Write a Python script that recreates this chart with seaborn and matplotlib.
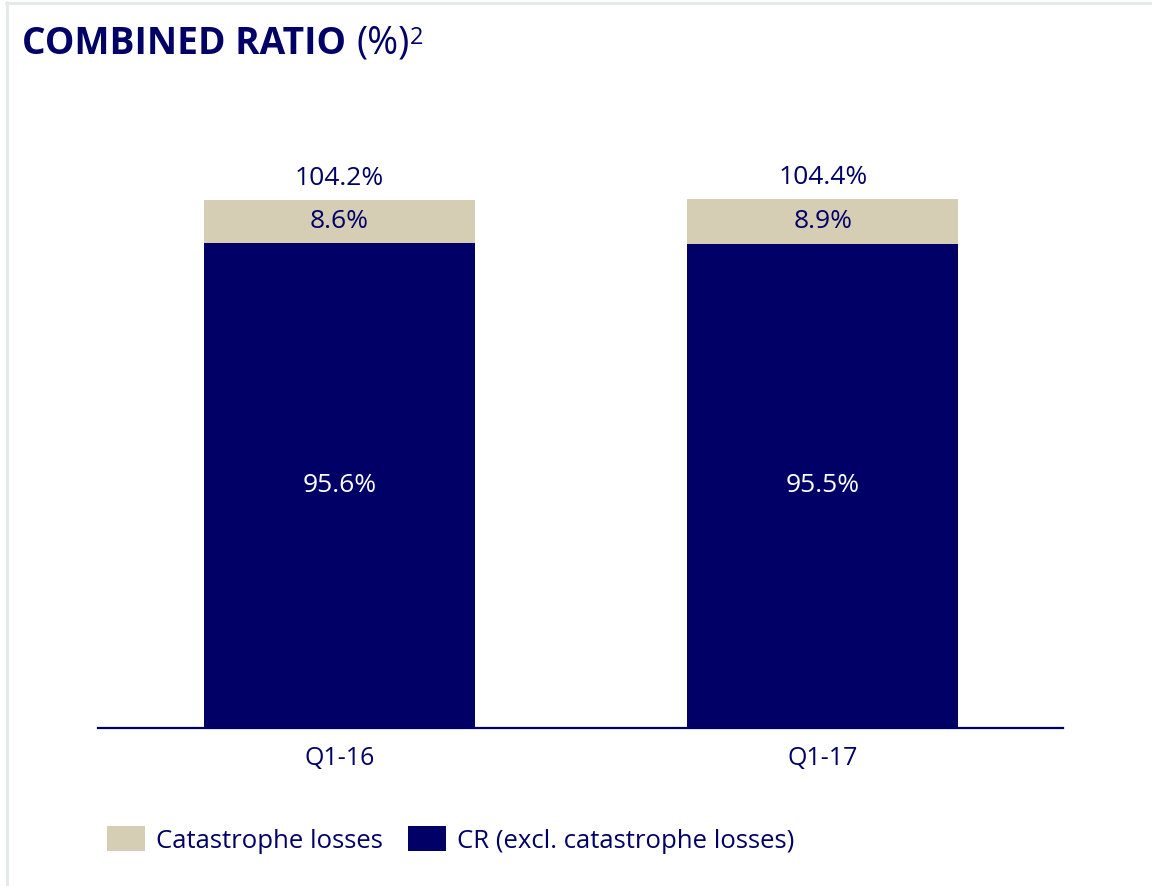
import matplotlib
matplotlib.use("Agg")
import matplotlib.pyplot as plt
import seaborn as sns
import pandas as pd
from matplotlib.lines import Line2D
from matplotlib.patches import Patch

categories = ["Q1-16", "Q1-17"]
cr_excl = [95.6, 95.5]
cat_losses = [8.6, 8.9]
totals = [104.2, 104.4]

NAVY = "#000066"
BEIGE = "#d5cdb4"

sns.set_theme(style="white")
plt.rcParams["font.family"] = ["Open Sans", "DejaVu Sans"]

df = pd.DataFrame({"period": categories, "cr": cr_excl, "cat": cat_losses, "total": totals})

fig = plt.figure(figsize=(11.52, 8.86), dpi=100)
ax = fig.add_axes([98/1152, 158/886, 965/1152, 588/886])

sns.barplot(data=df, x="period", y="total", color=BEIGE, width=0.561, ax=ax,
            saturation=1, edgecolor="none", linewidth=0)
sns.barplot(data=df, x="period", y="cr", color=NAVY, width=0.561, ax=ax,
            saturation=1, edgecolor="none", linewidth=0)

ax.set_xlim(-0.5, 1.497)
ax.set_ylim(0, 116)
for s in ["top", "right", "left"]:
    ax.spines[s].set_visible(False)
ax.spines["bottom"].set_color(NAVY)
ax.spines["bottom"].set_linewidth(1.6)
ax.set_yticks([])
ax.set_xlabel("")
ax.set_ylabel("")
ax.tick_params(axis="x", length=0, pad=13, labelsize=18, labelcolor=NAVY)

for i in range(len(categories)):
    ax.text(i, cr_excl[i] / 2, f"{cr_excl[i]:.1f}%", ha="center", va="center",
            color="white", fontsize=19)
    ax.text(i, cr_excl[i] + cat_losses[i] / 2, f"{cat_losses[i]:.1f}%", ha="center",
            va="center", color=NAVY, fontsize=19)
    ax.text(i, totals[i] + 4.2, f"{totals[i]:.1f}%", ha="center", va="center",
            color=NAVY, fontsize=19)

handles = [Patch(facecolor=BEIGE, edgecolor="none", label="Catastrophe losses"),
           Patch(facecolor=NAVY, edgecolor="none", label="CR (excl. catastrophe losses)")]
fig.legend(handles=handles, loc="center left", bbox_to_anchor=(107/1152, 1 - 840/886),
           ncol=2, frameon=False, fontsize=18.5, handlelength=1.48, handleheight=1.1,
           handletextpad=0.44, columnspacing=0.95, labelcolor=NAVY, borderaxespad=0,
           borderpad=0)

# title
t1 = fig.text(22/1152, 1 - 53.5/886, "COMBINED RATIO", fontsize=26.7, fontweight="bold",
              color=NAVY, va="baseline", ha="left")
fig.canvas.draw()
r = fig.canvas.get_renderer()
bb = t1.get_window_extent(r)
t2 = fig.text((bb.x1 + 10) / 1152, 1 - 53.5/886, "(%)", fontsize=27, color=NAVY,
              va="baseline", ha="left")
bb2 = t2.get_window_extent(r)
fig.text((bb2.x1 + 1) / 1152, 1 - 44/886, "2", fontsize=17, color=NAVY,
         va="baseline", ha="left")

# light frame lines
fig.add_artist(Line2D([6/1152, 1], [1 - 2.5/886, 1 - 2.5/886], color="#e5eae8", lw=2.2))
fig.add_artist(Line2D([6.5/1152, 6.5/1152], [0, 1 - 2/886], color="#e5eae8", lw=2.2))

fig.savefig("out.png", dpi=100)
